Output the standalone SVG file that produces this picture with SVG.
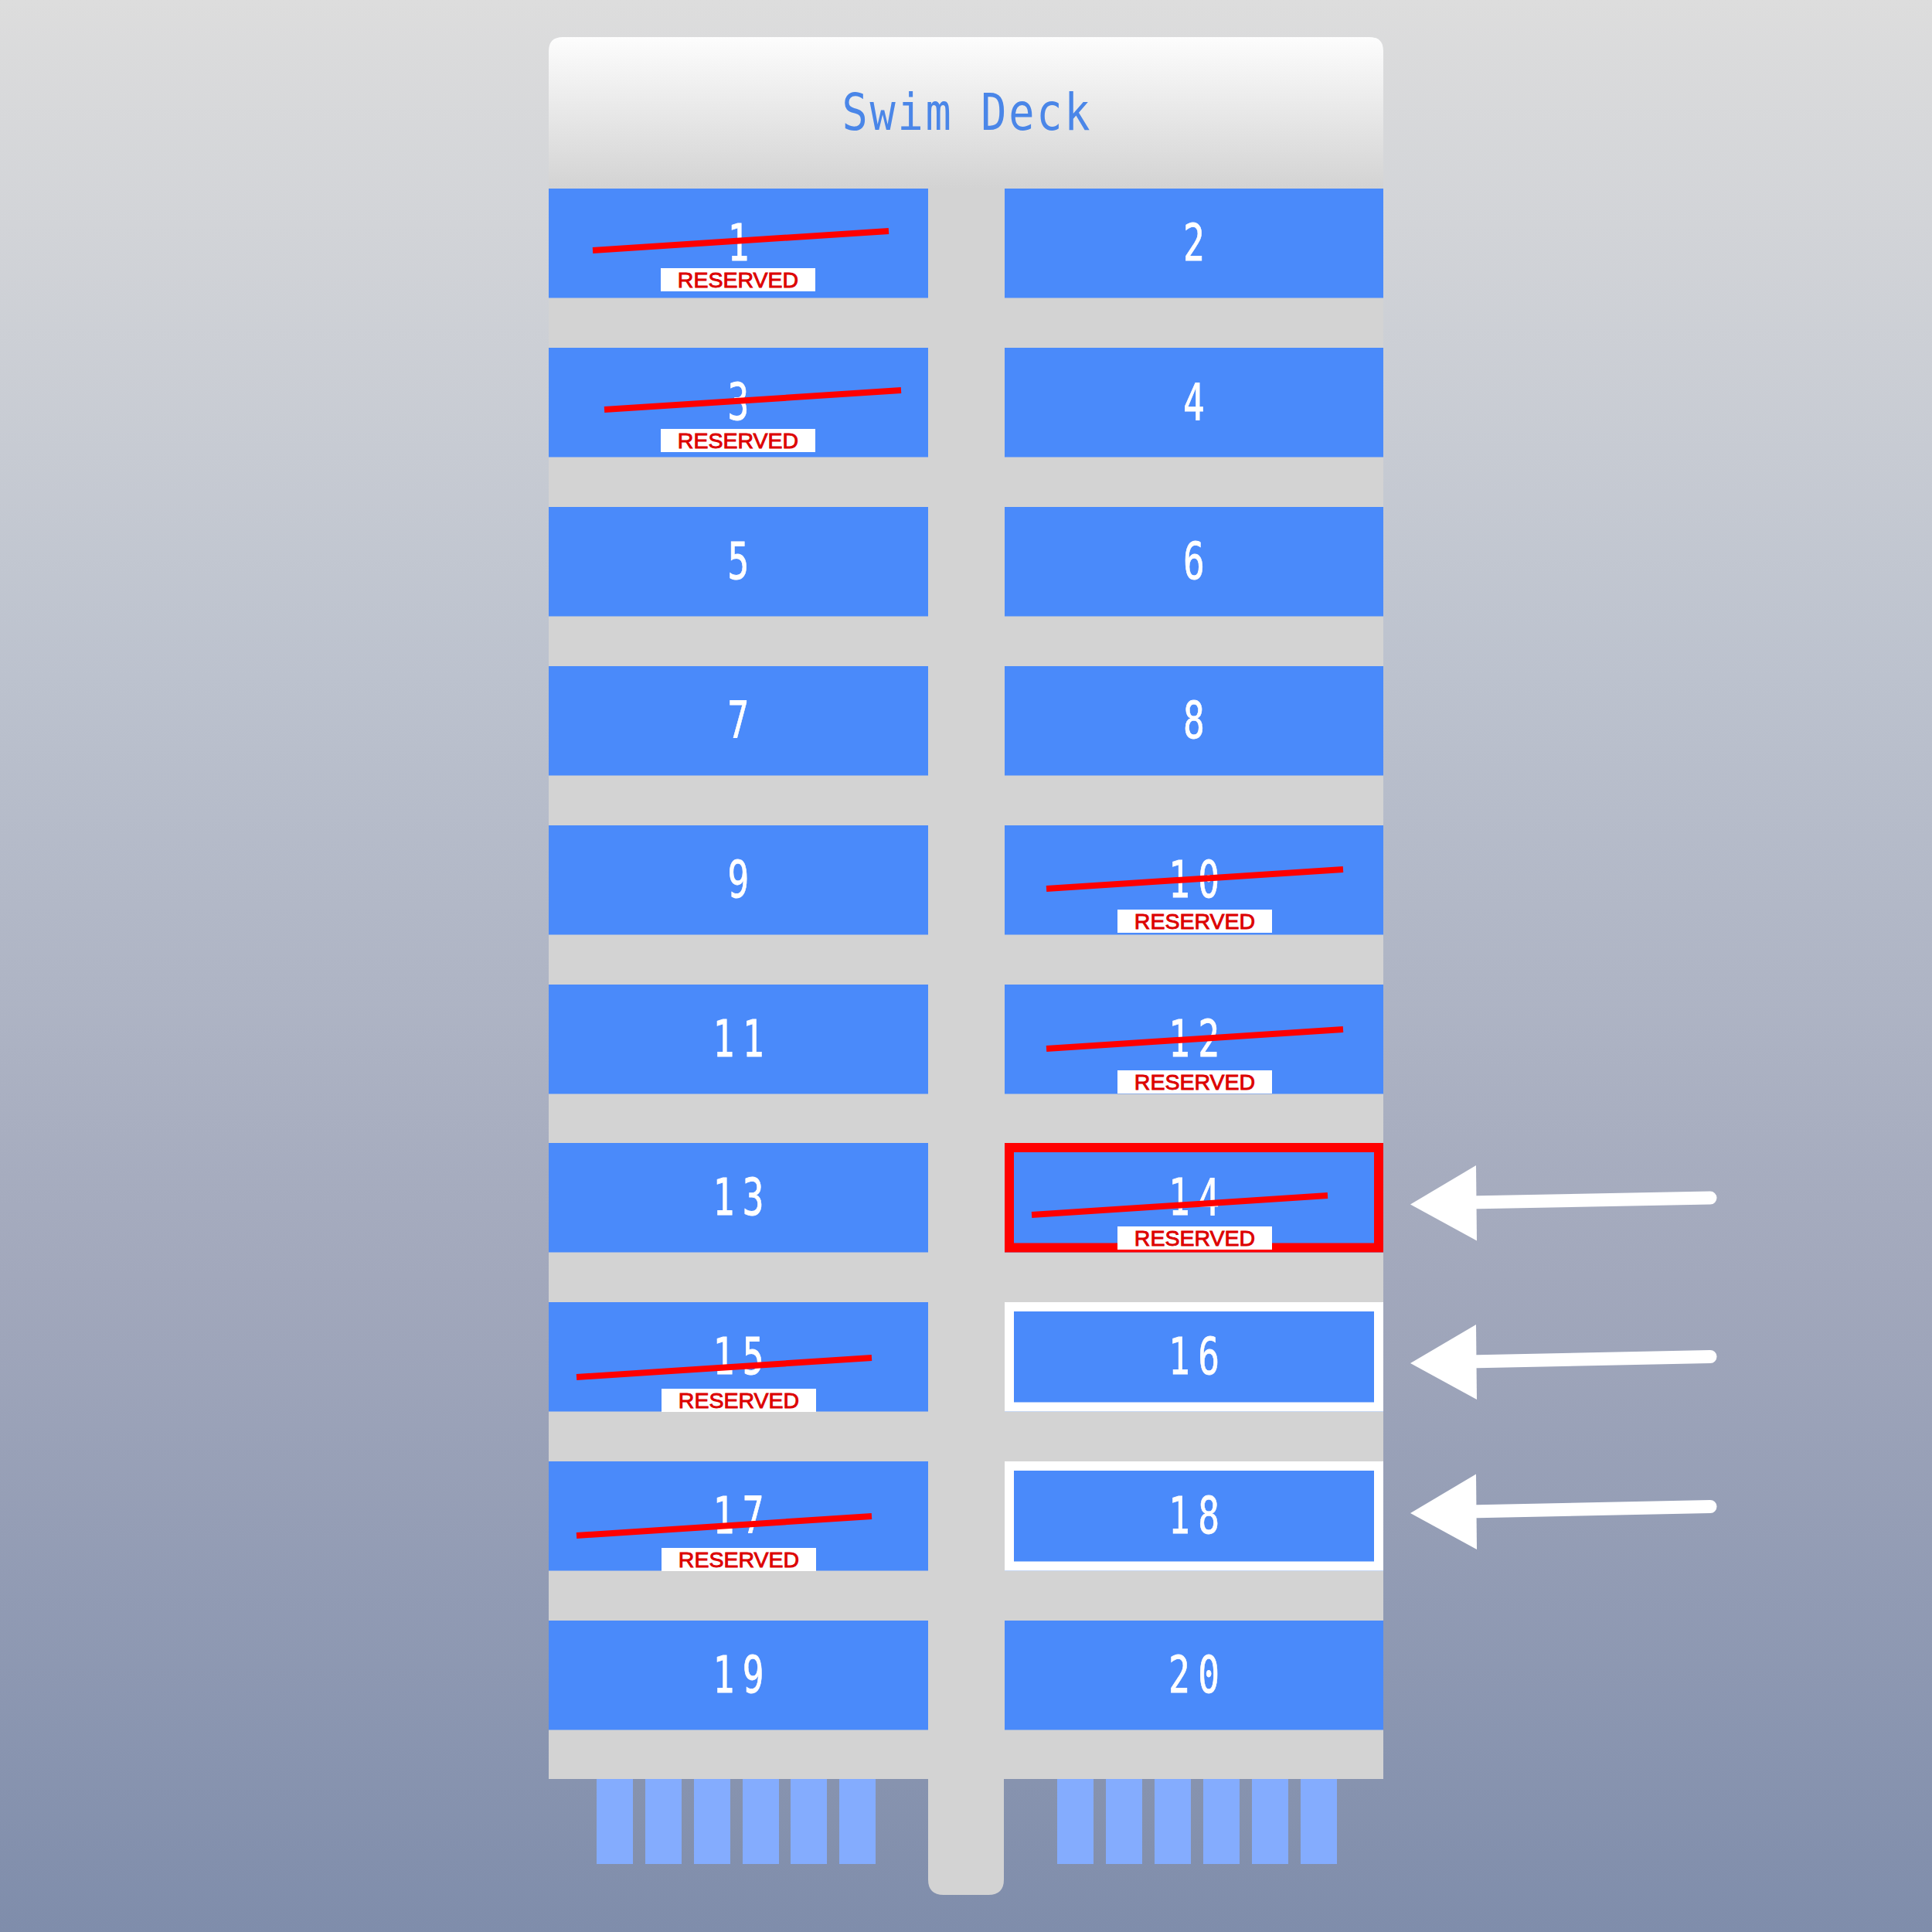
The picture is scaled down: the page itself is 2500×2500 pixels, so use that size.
<svg xmlns="http://www.w3.org/2000/svg" width="2500" height="2500" viewBox="0 0 2500 2500">
<defs>
<linearGradient id="bg" x1="0" y1="0" x2="0" y2="1">
<stop offset="0" stop-color="#dddddd"/>
<stop offset="0.35" stop-color="#bcc2ce"/>
<stop offset="0.66" stop-color="#a2a8bc"/>
<stop offset="1" stop-color="#7f8dab"/>
</linearGradient>
<linearGradient id="hdr" gradientUnits="userSpaceOnUse" x1="0" y1="48" x2="0" y2="244">
<stop offset="0" stop-color="#fdfdfd"/>
<stop offset="1" stop-color="#d3d3d3"/>
</linearGradient>
</defs>
<style>
.slip{fill:#4a8afa}
.num{font-family:"DejaVu Sans Mono","Liberation Mono",monospace;font-size:66px;fill:#ffffff;stroke:#ffffff;stroke-width:0.8;text-anchor:middle;letter-spacing:15px}
.strike{stroke:#ff0000;stroke-width:8;fill:none}
.tag{fill:#ffffff}
.tagt{font-family:"Liberation Sans",Arial,sans-serif;font-size:28.5px;fill:#dd0000;stroke:#dd0000;stroke-width:0.9;text-anchor:middle}
.sel{fill:none;stroke:#ff0000;stroke-width:12}
.hl{fill:none;stroke:#ffffff;stroke-width:12}
.bar{fill:#84acfe}
.arr{stroke:#ffffff;stroke-width:17;stroke-linecap:round;fill:none}
.head{fill:#ffffff}
</style>
<rect x="0" y="0" width="2500" height="2500" fill="url(#bg)"/>

<g id="fingers">
<rect class="bar" x="772" y="2300" width="47" height="112"/>
<rect class="bar" x="835" y="2300" width="47" height="112"/>
<rect class="bar" x="898" y="2300" width="47" height="112"/>
<rect class="bar" x="961" y="2300" width="47" height="112"/>
<rect class="bar" x="1023" y="2300" width="47" height="112"/>
<rect class="bar" x="1086" y="2300" width="47" height="112"/>
<rect class="bar" x="1368" y="2300" width="47" height="112"/>
<rect class="bar" x="1431" y="2300" width="47" height="112"/>
<rect class="bar" x="1494" y="2300" width="47" height="112"/>
<rect class="bar" x="1557" y="2300" width="47" height="112"/>
<rect class="bar" x="1620" y="2300" width="47" height="112"/>
<rect class="bar" x="1683" y="2300" width="47" height="112"/>
</g>

<g id="deck">
<path d="M710,66 Q710,48 728,48 L1772,48 Q1790,48 1790,66 L1790,2302 L710,2302 Z" fill="#d3d3d3"/>
<path d="M1201,2200 L1299,2200 L1299,2432 Q1299,2452 1279,2452 L1221,2452 Q1201,2452 1201,2432 Z" fill="#d3d3d3"/>
<path d="M710,66 Q710,48 728,48 L1772,48 Q1790,48 1790,66 L1790,244 L710,244 Z" fill="url(#hdr)"/>
<text transform="translate(1250,168) scale(0.85,1)" x="1.6" y="0" font-family="DejaVu Sans Mono,Liberation Mono,monospace" font-size="65" letter-spacing="3.2" fill="#4a86e8" text-anchor="middle">Swim Deck</text>
</g>

<g id="slip-1">
<rect class="slip" x="710" y="244" width="491" height="141.5"/>
<text class="num" transform="translate(955.5,337) scale(0.7,1)" x="7.5" y="0">1</text>
<line class="strike" x1="767" y1="324" x2="1150" y2="299"/>
<rect class="tag" x="855" y="347" width="200" height="30"/>
<text class="tagt" x="955" y="372">RESERVED</text>
</g>
<g id="slip-2">
<rect class="slip" x="1300" y="244" width="490" height="141.5"/>
<text class="num" transform="translate(1545,337) scale(0.7,1)" x="7.5" y="0">2</text>
</g>
<g id="slip-3">
<rect class="slip" x="710" y="450" width="491" height="141.5"/>
<text class="num" transform="translate(955.5,543) scale(0.7,1)" x="7.5" y="0">3</text>
<line class="strike" x1="782" y1="530" x2="1166" y2="505"/>
<rect class="tag" x="855" y="555" width="200" height="30"/>
<text class="tagt" x="955" y="580">RESERVED</text>
</g>
<g id="slip-4">
<rect class="slip" x="1300" y="450" width="490" height="141.5"/>
<text class="num" transform="translate(1545,543) scale(0.7,1)" x="7.5" y="0">4</text>
</g>
<g id="slip-5">
<rect class="slip" x="710" y="656" width="491" height="141.5"/>
<text class="num" transform="translate(955.5,749) scale(0.7,1)" x="7.5" y="0">5</text>
</g>
<g id="slip-6">
<rect class="slip" x="1300" y="656" width="490" height="141.5"/>
<text class="num" transform="translate(1545,749) scale(0.7,1)" x="7.5" y="0">6</text>
</g>
<g id="slip-7">
<rect class="slip" x="710" y="862" width="491" height="141.5"/>
<text class="num" transform="translate(955.5,955) scale(0.7,1)" x="7.5" y="0">7</text>
</g>
<g id="slip-8">
<rect class="slip" x="1300" y="862" width="490" height="141.5"/>
<text class="num" transform="translate(1545,955) scale(0.7,1)" x="7.5" y="0">8</text>
</g>
<g id="slip-9">
<rect class="slip" x="710" y="1068" width="491" height="141.5"/>
<text class="num" transform="translate(955.5,1161) scale(0.7,1)" x="7.5" y="0">9</text>
</g>
<g id="slip-10">
<rect class="slip" x="1300" y="1068" width="490" height="141.5"/>
<text class="num" transform="translate(1545,1161) scale(0.7,1)" x="7.5" y="0">10</text>
<line class="strike" x1="1354" y1="1150" x2="1738" y2="1125"/>
<rect class="tag" x="1446" y="1177" width="200" height="30"/>
<text class="tagt" x="1546" y="1202">RESERVED</text>
</g>
<g id="slip-11">
<rect class="slip" x="710" y="1274" width="491" height="141.5"/>
<text class="num" transform="translate(955.5,1367) scale(0.7,1)" x="7.5" y="0">11</text>
</g>
<g id="slip-12">
<rect class="slip" x="1300" y="1274" width="490" height="141.5"/>
<text class="num" transform="translate(1545,1367) scale(0.7,1)" x="7.5" y="0">12</text>
<line class="strike" x1="1354" y1="1357" x2="1738" y2="1332"/>
<rect class="tag" x="1446" y="1385" width="200" height="30"/>
<text class="tagt" x="1546" y="1410">RESERVED</text>
</g>
<g id="slip-13">
<rect class="slip" x="710" y="1479" width="491" height="141.5"/>
<text class="num" transform="translate(955.5,1572) scale(0.7,1)" x="7.5" y="0">13</text>
</g>
<g id="slip-14">
<rect class="slip" x="1300" y="1479" width="490" height="141.5"/>
<rect class="sel" x="1306" y="1485" width="478" height="129.5"/>
<text class="num" transform="translate(1545,1572) scale(0.7,1)" x="7.5" y="0">14</text>
<line class="strike" x1="1335" y1="1572" x2="1718" y2="1547"/>
<rect class="tag" x="1446" y="1587" width="200" height="30"/>
<text class="tagt" x="1546" y="1612">RESERVED</text>
</g>
<g id="slip-15">
<rect class="slip" x="710" y="1685" width="491" height="141.5"/>
<text class="num" transform="translate(955.5,1778) scale(0.7,1)" x="7.5" y="0">15</text>
<line class="strike" x1="746" y1="1782" x2="1128" y2="1757"/>
<rect class="tag" x="856" y="1797" width="200" height="30"/>
<text class="tagt" x="956" y="1822">RESERVED</text>
</g>
<g id="slip-16">
<rect class="slip" x="1300" y="1685" width="490" height="141.5"/>
<rect class="hl" x="1306" y="1691" width="478" height="129.5"/>
<text class="num" transform="translate(1545,1778) scale(0.7,1)" x="7.5" y="0">16</text>
</g>
<g id="slip-17">
<rect class="slip" x="710" y="1891" width="491" height="141.5"/>
<text class="num" transform="translate(955.5,1984) scale(0.7,1)" x="7.5" y="0">17</text>
<line class="strike" x1="746" y1="1987" x2="1128" y2="1962"/>
<rect class="tag" x="856" y="2003" width="200" height="30"/>
<text class="tagt" x="956" y="2028">RESERVED</text>
</g>
<g id="slip-18">
<rect class="slip" x="1300" y="1891" width="490" height="141.5"/>
<rect class="hl" x="1306" y="1897" width="478" height="129.5"/>
<text class="num" transform="translate(1545,1984) scale(0.7,1)" x="7.5" y="0">18</text>
</g>
<g id="slip-19">
<rect class="slip" x="710" y="2097" width="491" height="141.5"/>
<text class="num" transform="translate(955.5,2190) scale(0.7,1)" x="7.5" y="0">19</text>
</g>
<g id="slip-20">
<rect class="slip" x="1300" y="2097" width="490" height="141.5"/>
<text class="num" transform="translate(1545,2190) scale(0.7,1)" x="7.5" y="0">20</text>
</g>

<g id="connectors">
<line class="arr" x1="1900" y1="1556" x2="2213" y2="1550"/>
<polygon class="head" points="1825,1558.5 1910,1508 1911,1605.5"/>
<line class="arr" x1="1900" y1="1762" x2="2213" y2="1755.5"/>
<polygon class="head" points="1825,1764 1910,1714 1911,1811"/>
<line class="arr" x1="1900" y1="1956" x2="2213" y2="1949.5"/>
<polygon class="head" points="1825,1958 1910,1907.5 1911,2005"/>
</g>
</svg>
